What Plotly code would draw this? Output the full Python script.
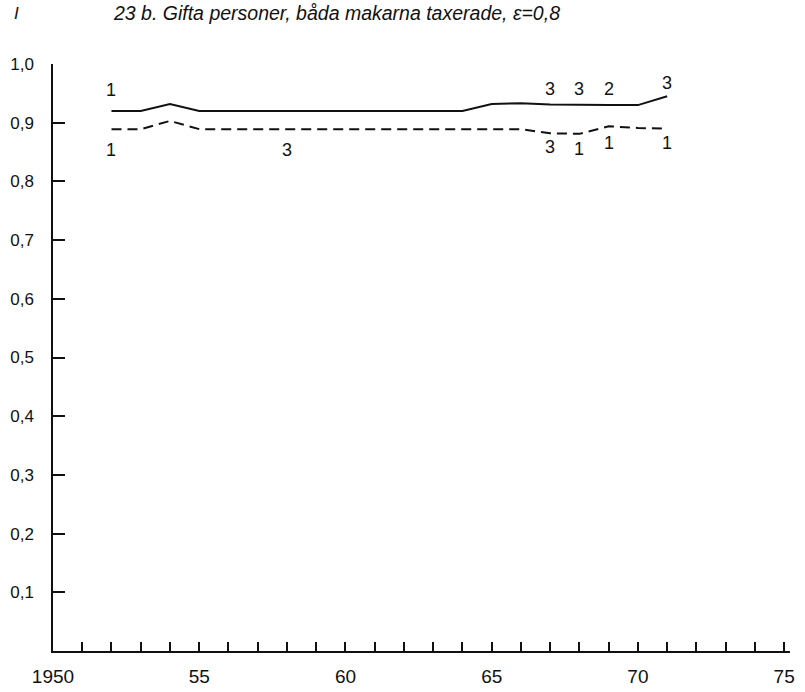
import plotly.graph_objects as go

years = list(range(1952, 1972))
solid_vals = [0.920, 0.920, 0.932, 0.920, 0.920, 0.920, 0.920, 0.920, 0.920, 0.920,
              0.920, 0.920, 0.920, 0.932, 0.933, 0.931, 0.930, 0.930, 0.930, 0.945]
dashed_vals = [0.889, 0.889, 0.903, 0.889, 0.889, 0.889, 0.889, 0.889, 0.889, 0.889,
               0.889, 0.889, 0.889, 0.889, 0.889, 0.882, 0.881, 0.894, 0.891, 0.890]

# labels next to the lines: (year, y, text)
solid_labels = [(1952, 0.956, "1"), (1967, 0.958, "3"), (1968, 0.958, "3"),
                (1969, 0.958, "2"), (1971, 0.968, "3")]
dashed_labels = [(1952, 0.854, "1"), (1958, 0.854, "3"), (1967, 0.858, "3"),
                 (1968, 0.855, "1"), (1969, 0.865, "1"), (1971, 0.865, "1")]

ytick_vals = [0.1, 0.2, 0.3, 0.4, 0.5, 0.6, 0.7, 0.8, 0.9, 1.0]
xtick_vals = list(range(1950, 1976))
xtick_text = [("1950" if y == 1950 else (str(y - 1900) if y % 5 == 0 else "")) for y in xtick_vals]

font = "Liberation Sans, Arial, sans-serif"

fig = go.Figure()
fig.add_trace(go.Scatter(x=years, y=solid_vals, mode="lines",
                         line=dict(color="#111", width=2), showlegend=False))
fig.add_trace(go.Scatter(x=years, y=dashed_vals, mode="lines",
                         line=dict(color="#111", width=2, dash="10px,6px"), showlegend=False))

for x, y, t in solid_labels + dashed_labels:
    fig.add_annotation(x=x, y=y, text=t, showarrow=False, xref="x", yref="y",
                       font=dict(size=18, color="#111", family=font))

fig.add_annotation(xref="paper", yref="paper", x=(111 - 53) / 737, y=1 + (64 - 13) / 587,
                   text="<i>23 b. Gifta personer, båda makarna taxerade, ε=0,8</i>",
                   showarrow=False, xanchor="left", yanchor="middle",
                   font=dict(size=19.5, color="#111", family=font))
fig.add_annotation(xref="paper", yref="paper", x=(12 - 53) / 737, y=1 + (64 - 13) / 587,
                   text="<i>I</i>", showarrow=False, xanchor="left", yanchor="middle",
                   font=dict(size=17, color="#111", family=font))

fig.update_layout(
    width=805, height=692,
    margin=dict(l=53, r=15, t=64, b=41, autoexpand=False),
    paper_bgcolor="white", plot_bgcolor="white",
    separators=", ",
    font=dict(family=font, color="#111"),
    xaxis=dict(range=[1950, 1975.2], tickmode="array", tickvals=xtick_vals, ticktext=xtick_text,
               ticks="inside", ticklen=9, tickwidth=1.5, tickcolor="#111", automargin=False,
               showline=True, linecolor="#111", linewidth=1.5, showgrid=False, zeroline=False,
               tickfont=dict(size=19, family=font), ticklabelstandoff=7),
    yaxis=dict(range=[0, 1.0], tickmode="array", tickvals=ytick_vals,
               ticktext=[f"{v:.1f}".replace(".", ",") for v in ytick_vals],
               ticks="inside", ticklen=12, tickwidth=1.5, tickcolor="#111", automargin=False,
               showline=True, linecolor="#111", linewidth=1.5, showgrid=False, zeroline=False,
               tickfont=dict(size=17, family=font), ticklabelstandoff=14),
)

fig.write_html("out.html")
